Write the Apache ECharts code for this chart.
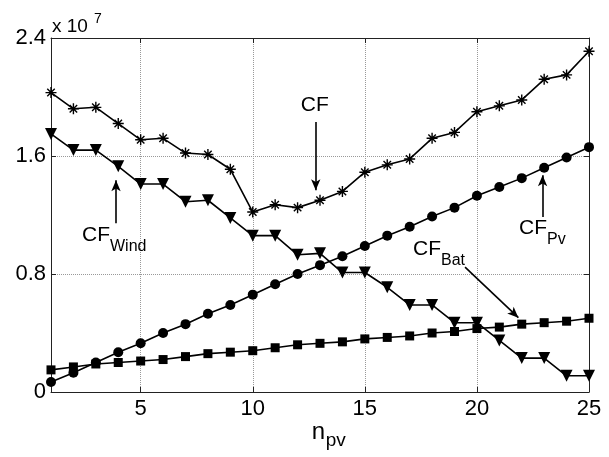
<!DOCTYPE html>
<html><head><meta charset="utf-8">
<script src="https://cdn.jsdelivr.net/npm/echarts@6/dist/echarts.min.js"></script>
<style>html,body{margin:0;padding:0;background:#fff}#c{width:609px;height:457px}</style>
</head><body><div id="c"></div>
<script>
const nPv = [1,2,3,4,5,6,7,8,9,10,11,12,13,14,15,16,17,18,19,20,21,22,23,24,25];
const cfTotal = [2.03,1.92,1.93,1.82,1.71,1.72,1.62,1.61,1.51,1.22,1.27,1.25,1.30,1.36,1.49,1.54,1.58,1.72,1.76,1.90,1.94,1.98,2.12,2.15,2.31];
const cfWind = [1.75,1.64,1.64,1.53,1.41,1.41,1.29,1.30,1.18,1.06,1.06,0.93,0.94,0.81,0.81,0.71,0.59,0.59,0.47,0.47,0.35,0.23,0.23,0.11,0.11];
const cfPv = [0.068,0.13,0.20,0.27,0.33,0.40,0.46,0.53,0.59,0.66,0.73,0.80,0.86,0.92,0.99,1.06,1.12,1.19,1.25,1.33,1.39,1.45,1.52,1.59,1.66];
const cfBat = [0.15,0.17,0.19,0.20,0.21,0.22,0.24,0.26,0.27,0.28,0.30,0.32,0.33,0.34,0.36,0.37,0.38,0.40,0.41,0.43,0.44,0.46,0.47,0.48,0.50];
const xTicks = [5,10,15,20,25];
const yTicks = [0,0.8,1.6,2.4];
const multiplierText = 'x 10';
const multiplierExp = '7';
const xTitleMain = 'n';
const xTitleSub = 'pv';
// annotations: [main, sub, textAnchor(data), arrowFrom(data), arrowTo(data)]
const annotations = [
  {main:'CF', sub:'', text:[12.77,1.944], from:[12.81,1.83], to:[12.81,1.367], align:'center'},
  {main:'CF', sub:'Wind', text:[2.383,1.066], from:[3.90,1.144], to:[3.90,1.435], align:'left'},
  {main:'CF', sub:'Pv', text:[21.877,1.113], from:[22.93,1.186], to:[22.93,1.469], align:'left'},
  {main:'CF', sub:'Bat', text:[17.148,0.971], from:[19.47,0.847], to:[21.85,0.504], align:'left'}
];

const FONT = '"Liberation Sans", Arial, Helvetica, sans-serif';
const pairs = arr => nPv.map((x,i)=>[x, arr[i]]);
const asterisk = 'path://M5,0L5,10M0,5L10,5M1.6,1.6L8.4,8.4M1.6,8.4L8.4,1.6';

const chart = echarts.init(document.getElementById('c'), null, {renderer:'canvas'});
const axisLineStyle = {color:'#222', width:1};
const option = {
  animation:false,
  backgroundColor:'#fff',
  grid:{left:51, right:20, top:38, bottom:65, containLabel:false},
  xAxis:[{
    type:'value', min:1, max:25,
    axisLine:{show:true, onZero:false, lineStyle:axisLineStyle},
    axisTick:{show:true, inside:true, length:5, customValues:xTicks, lineStyle:axisLineStyle},
    axisLabel:{show:true, customValues:xTicks, fontFamily:FONT, fontSize:22, color:'#000', margin:6},
    splitLine:{show:true, lineStyle:{type:'dotted', color:'#999', width:1}}
  },{
    type:'value', min:1, max:25, position:'top',
    axisLine:{show:true, onZero:false, lineStyle:axisLineStyle},
    axisTick:{show:true, inside:true, length:5, customValues:xTicks, lineStyle:axisLineStyle},
    axisLabel:{show:false}, splitLine:{show:false}
  }],
  yAxis:[{
    type:'value', min:0, max:2.4, interval:0.8,
    axisLine:{show:true, onZero:false, lineStyle:axisLineStyle},
    axisTick:{show:true, inside:true, length:5, lineStyle:axisLineStyle},
    axisLabel:{show:true, fontFamily:FONT, fontSize:22, color:'#000', margin:5,
      formatter:v => (Math.abs(v)<1e-9 ? '0' : v.toFixed(1))},
    splitLine:{show:true, lineStyle:{type:'dotted', color:'#999', width:1}}
  },{
    type:'value', min:0, max:2.4, interval:0.8, position:'right',
    axisLine:{show:true, onZero:false, lineStyle:axisLineStyle},
    axisTick:{show:true, inside:true, length:5, lineStyle:axisLineStyle},
    axisLabel:{show:false}, splitLine:{show:false}
  }],
  series:[
    {name:'CF', type:'line', data:pairs(cfTotal), symbol:asterisk, symbolSize:11,
     color:'#000', lineStyle:{color:'#000', width:1.6},
     itemStyle:{color:'#000', borderColor:'#000', borderWidth:1.4},
     markLine:{silent:true, symbol:['none','arrow'], symbolSize:[7,11], label:{show:false},
       lineStyle:{color:'#000', width:1.6, type:'solid'},
       data: annotations.map(a=>[{coord:a.from},{coord:a.to}])}},
    {name:'CF_Wind', type:'line', data:pairs(cfWind), symbol:'triangle', symbolRotate:180, symbolSize:12,
     color:'#000', lineStyle:{color:'#000', width:1.6}, itemStyle:{color:'#000'}},
    {name:'CF_Pv', type:'line', data:pairs(cfPv), symbol:'circle', symbolSize:10,
     color:'#000', lineStyle:{color:'#000', width:1.6}, itemStyle:{color:'#000'}},
    {name:'CF_Bat', type:'line', data:pairs(cfBat), symbol:'rect', symbolSize:9,
     color:'#000', lineStyle:{color:'#000', width:1.6}, itemStyle:{color:'#000'}}
  ]
};
chart.setOption(option);

const g = [];
annotations.forEach(a=>{
  const p = chart.convertToPixel({gridIndex:0}, a.text);
  g.push({type:'text', x:p[0], y:p[1], silent:true,
    style:{text:a.main, font:'21px '+FONT, fill:'#000', align:a.align, verticalAlign:'middle'}});
  if (a.sub) {
    g.push({type:'text', x:p[0]+28, y:p[1]+11.5, silent:true,
      style:{text:a.sub, font:'16px '+FONT, fill:'#000', align:'left', verticalAlign:'middle'}});
  }
});
const tl = chart.convertToPixel({gridIndex:0}, [1, 2.4]);
g.push({type:'text', x:tl[0]+1, y:tl[1]-11, silent:true,
  style:{text:multiplierText, font:'19px '+FONT, fill:'#000', align:'left', verticalAlign:'middle'}});
g.push({type:'text', x:tl[0]+43, y:tl[1]-19, silent:true,
  style:{text:multiplierExp, font:'14px '+FONT, fill:'#000', align:'left', verticalAlign:'middle'}});
const bc = chart.convertToPixel({gridIndex:0}, [12.5, 0]);
g.push({type:'text', x:bc[0]+3, y:bc[1]+40, silent:true,
  style:{text:xTitleMain, font:'24px '+FONT, fill:'#000', align:'left', verticalAlign:'middle'}});
g.push({type:'text', x:bc[0]+17, y:bc[1]+49, silent:true,
  style:{text:xTitleSub, font:'19px '+FONT, fill:'#000', align:'left', verticalAlign:'middle'}});
chart.setOption({graphic:g});
</script></body></html>
